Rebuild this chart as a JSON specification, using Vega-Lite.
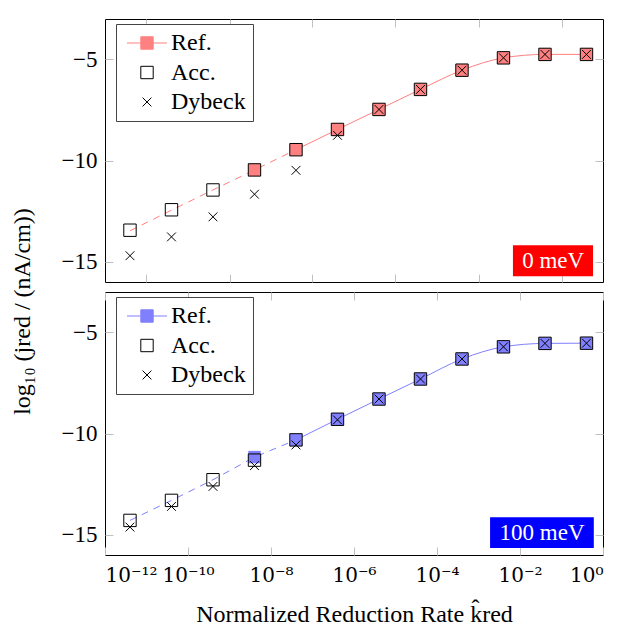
{
  "$schema": "https://vega.github.io/schema/vega-lite/v6.json",
  "padding": {"left": 9, "top": 18, "right": 4, "bottom": 0},
  "background": "white",
  "spacing": 10,
  "bounds": "flush",
  "resolve": {
    "scale": {"shape": "independent", "fill": "independent", "stroke": "independent"},
    "legend": {"shape": "independent", "fill": "independent", "stroke": "independent"}
  },
  "config": {
    "font": "Liberation Serif",
    "view": {"stroke": "black", "strokeWidth": 1},
    "axis": {
      "labelFont": "Liberation Serif", "labelFontSize": 23, "labelColor": "black",
      "titleFont": "Liberation Serif", "titleFontSize": 24, "titleFontWeight": "normal", "titleColor": "black",
      "domain": false, "grid": false, "tickColor": "#c0c0c0", "tickSize": -8, "tickWidth": 1
    },
    "legend": {
      "orient": "none", "legendX": 11, "legendY": 5,
      "strokeColor": "#444444", "fillColor": "white", "padding": 7,
      "labelFont": "Liberation Serif", "labelFontSize": 24, "labelColor": "black",
      "symbolSize": 400, "symbolStrokeWidth": 1, "symbolOffset": 12, "labelOffset": 12, "rowPadding": 5.5
    }
  },
  "datasets": {
    "p0": [
      {"k": 4e-12, "s": "Ref.", "v": -13.47}, {"k": 4e-11, "s": "Ref.", "v": -12.45}, {"k": 4e-10, "s": "Ref.", "v": -11.45}, {"k": 4e-9, "s": "Ref.", "v": -10.46},
      {"k": 4e-8, "s": "Ref.", "v": -9.46}, {"k": 4e-7, "s": "Ref.", "v": -8.46}, {"k": 4e-6, "s": "Ref.", "v": -7.47}, {"k": 4e-5, "s": "Ref.", "v": -6.48},
      {"k": 4e-4, "s": "Ref.", "v": -5.53}, {"k": 4e-3, "s": "Ref.", "v": -4.92}, {"k": 4e-2, "s": "Ref.", "v": -4.75}, {"k": 4e-1, "s": "Ref.", "v": -4.75},
      {"k": 4e-12, "s": "Acc.", "v": -13.44}, {"k": 4e-11, "s": "Acc.", "v": -12.43}, {"k": 4e-10, "s": "Acc.", "v": -11.45}, {"k": 4e-9, "s": "Acc.", "v": -10.46},
      {"k": 4e-8, "s": "Acc.", "v": -9.46}, {"k": 4e-7, "s": "Acc.", "v": -8.46}, {"k": 4e-6, "s": "Acc.", "v": -7.47}, {"k": 4e-5, "s": "Acc.", "v": -6.48},
      {"k": 4e-4, "s": "Acc.", "v": -5.53}, {"k": 4e-3, "s": "Acc.", "v": -4.92}, {"k": 4e-2, "s": "Acc.", "v": -4.75}, {"k": 4e-1, "s": "Acc.", "v": -4.75},
      {"k": 4e-12, "s": "Dybeck", "v": -14.70}, {"k": 4e-11, "s": "Dybeck", "v": -13.77}, {"k": 4e-10, "s": "Dybeck", "v": -12.78}, {"k": 4e-9, "s": "Dybeck", "v": -11.66},
      {"k": 4e-8, "s": "Dybeck", "v": -10.48}, {"k": 4e-7, "s": "Dybeck", "v": -8.75}, {"k": 4e-6, "s": "Dybeck", "v": -7.47}, {"k": 4e-5, "s": "Dybeck", "v": -6.48},
      {"k": 4e-4, "s": "Dybeck", "v": -5.53}, {"k": 4e-3, "s": "Dybeck", "v": -4.92}, {"k": 4e-2, "s": "Dybeck", "v": -4.75}, {"k": 4e-1, "s": "Dybeck", "v": -4.75}
    ],
    "p1": [
      {"k": 4e-12, "s": "Ref.", "v": -14.29}, {"k": 4e-11, "s": "Ref.", "v": -13.30}, {"k": 4e-10, "s": "Ref.", "v": -12.28}, {"k": 4e-9, "s": "Ref.", "v": -11.16},
      {"k": 4e-8, "s": "Ref.", "v": -10.31}, {"k": 4e-7, "s": "Ref.", "v": -9.29}, {"k": 4e-6, "s": "Ref.", "v": -8.29}, {"k": 4e-5, "s": "Ref.", "v": -7.30},
      {"k": 4e-4, "s": "Ref.", "v": -6.31}, {"k": 4e-3, "s": "Ref.", "v": -5.71}, {"k": 4e-2, "s": "Ref.", "v": -5.54}, {"k": 4e-1, "s": "Ref.", "v": -5.53},
      {"k": 4e-12, "s": "Acc.", "v": -14.29}, {"k": 4e-11, "s": "Acc.", "v": -13.30}, {"k": 4e-10, "s": "Acc.", "v": -12.28}, {"k": 4e-9, "s": "Acc.", "v": -11.31},
      {"k": 4e-8, "s": "Acc.", "v": -10.31}, {"k": 4e-7, "s": "Acc.", "v": -9.29}, {"k": 4e-6, "s": "Acc.", "v": -8.29}, {"k": 4e-5, "s": "Acc.", "v": -7.30},
      {"k": 4e-4, "s": "Acc.", "v": -6.31}, {"k": 4e-3, "s": "Acc.", "v": -5.71}, {"k": 4e-2, "s": "Acc.", "v": -5.54}, {"k": 4e-1, "s": "Acc.", "v": -5.53},
      {"k": 4e-12, "s": "Dybeck", "v": -14.62}, {"k": 4e-11, "s": "Dybeck", "v": -13.60}, {"k": 4e-10, "s": "Dybeck", "v": -12.61}, {"k": 4e-9, "s": "Dybeck", "v": -11.58},
      {"k": 4e-8, "s": "Dybeck", "v": -10.56}, {"k": 4e-7, "s": "Dybeck", "v": -9.32}, {"k": 4e-6, "s": "Dybeck", "v": -8.29}, {"k": 4e-5, "s": "Dybeck", "v": -7.30},
      {"k": 4e-4, "s": "Dybeck", "v": -6.31}, {"k": 4e-3, "s": "Dybeck", "v": -5.71}, {"k": 4e-2, "s": "Dybeck", "v": -5.54}, {"k": 4e-1, "s": "Dybeck", "v": -5.53}
    ]
  },
  "vconcat": [
    {
      "width": 498, "height": 263,
      "data": {"name": "p0"},
      "resolve": {"axis": {"x": "independent", "y": "independent"}},
      "layer": [
        {
          "transform": [{"filter": "datum.s === 'Ref.' && datum.k < 5e-8"}],
          "mark": {"type": "line", "stroke": "#ff8080", "strokeWidth": 1, "strokeDash": [7, 6]},
          "encoding": {
            "x": {"field": "k", "type": "quantitative", "scale": {"type": "log", "domain": [1e-12, 1], "nice": false},
                  "axis": {"orient": "bottom", "values": [1e-11, 1e-9, 1e-7, 1e-5, 1e-3, 1e-1], "labels": false, "title": null}},
            "y": {"field": "v", "type": "quantitative", "scale": {"domain": [-16, -3], "nice": false, "zero": false},
                  "axis": {"orient": "left", "values": [-15, -10, -5], "labelPadding": 16, "title": null}}
          }
        },
        {
          "transform": [{"filter": "datum.s === 'Ref.' && datum.k > 3e-8"}],
          "mark": {"type": "line", "stroke": "#ff8080", "strokeWidth": 1, "interpolate": "monotone"},
          "encoding": {
            "x": {"field": "k", "type": "quantitative", "axis": {"orient": "top", "values": [1e-11, 1e-9, 1e-7, 1e-5, 1e-3, 1e-1], "labels": false, "title": null}},
            "y": {"field": "v", "type": "quantitative", "axis": {"orient": "right", "values": [-15, -10, -5], "labels": false, "title": null}}
          }
        },
        {
          "transform": [{"filter": "datum.s === 'Ref.' && datum.k > 3e-9"}],
          "mark": {"type": "point", "shape": "square", "size": 155, "filled": true, "color": "#ff8080", "opacity": 1},
          "encoding": {
            "x": {"field": "k", "type": "quantitative", "axis": null},
            "y": {"field": "v", "type": "quantitative", "axis": null}
          }
        },
        {
          "transform": [{"filter": "datum.s !== 'Ref.'"}],
          "mark": {"type": "point", "size": 400, "strokeWidth": 1, "opacity": 1},
          "encoding": {
            "x": {"field": "k", "type": "quantitative", "axis": null},
            "y": {"field": "v", "type": "quantitative", "axis": null},
            "shape": {"field": "s", "type": "nominal", "title": null,
                      "scale": {"domain": ["Ref.", "Acc.", "Dybeck"], "range": ["M-2,0H-0.62M0.62,0H2M-0.62,-0.62H0.62V0.62H-0.62Z", "M-0.62,-0.62H0.62V0.62H-0.62Z", "M-0.44,-0.44L0.44,0.44M-0.44,0.44L0.44,-0.44"]}},
            "fill": {"field": "s", "type": "nominal", "title": null,
                     "scale": {"domain": ["Ref.", "Acc.", "Dybeck"], "range": ["#ff8080", "transparent", "transparent"]}},
            "stroke": {"field": "s", "type": "nominal", "title": null,
                       "scale": {"domain": ["Ref.", "Acc.", "Dybeck"], "range": ["#ff8080", "black", "black"]}}
          }
        },
        {
          "data": {"values": [{"t": "0 meV"}]},
          "mark": {"type": "rect", "color": "#ff0000"},
          "encoding": {
            "x": {"datum": 0.00676, "type": "quantitative", "axis": null},
            "x2": {"datum": 0.575},
            "y": {"datum": -14.18, "type": "quantitative", "axis": null},
            "y2": {"datum": -15.72}
          }
        },
        {
          "data": {"values": [{"t": "0 meV"}]},
          "mark": {"type": "text", "color": "white", "fontSize": 23, "font": "Liberation Serif", "align": "center", "baseline": "middle"},
          "encoding": {
            "x": {"datum": 0.063, "type": "quantitative", "axis": null},
            "y": {"datum": -14.95, "type": "quantitative", "axis": null},
            "text": {"field": "t"}
          }
        }
      ]
    },
    {
      "width": 498, "height": 263,
      "data": {"name": "p1"},
      "resolve": {"axis": {"x": "independent", "y": "independent"}},
      "layer": [
        {
          "transform": [{"filter": "datum.s === 'Ref.' && datum.k < 5e-8"}],
          "mark": {"type": "line", "stroke": "#8080ff", "strokeWidth": 1, "strokeDash": [7, 6]},
          "encoding": {
            "x": {"field": "k", "type": "quantitative", "scale": {"type": "log", "domain": [1e-12, 1], "nice": false},
                  "axis": {"orient": "bottom", "values": [1e-12, 1e-10, 1e-8, 1e-6, 1e-4, 1e-2, 1], "labelPadding": 18, "titlePadding": 17,
                           "labelFont": "DejaVu Serif", "labelFontSize": 20,
                           "labelExpr": "'10' + replace(replace(replace(replace(replace(replace(replace(toString(round(log(datum.value)/LN10)), '-', '⁻'), '0', '⁰'), '1', '¹'), '2', '²'), '4', '⁴'), '6', '⁶'), '8', '⁸')",
                           "title": "Normalized Reduction Rate k̂red"}},
            "y": {"field": "v", "type": "quantitative", "scale": {"domain": [-16, -3], "nice": false, "zero": false},
                  "axis": {"orient": "left", "values": [-15, -10, -5], "labelPadding": 16, "title": "log₁₀ (jred / (nA/cm))",
                           "titleX": -83, "titleY": 19, "titleBaseline": "middle", "titleAlign": "center", "titleAngle": -90}}
          }
        },
        {
          "transform": [{"filter": "datum.s === 'Ref.' && datum.k > 3e-8"}],
          "mark": {"type": "line", "stroke": "#8080ff", "strokeWidth": 1, "interpolate": "monotone"},
          "encoding": {
            "x": {"field": "k", "type": "quantitative", "axis": {"orient": "top", "values": [1e-12, 1e-10, 1e-8, 1e-6, 1e-4, 1e-2, 1], "labels": false, "title": null}},
            "y": {"field": "v", "type": "quantitative", "axis": {"orient": "right", "values": [-15, -10, -5], "labels": false, "title": null}}
          }
        },
        {
          "transform": [{"filter": "datum.s === 'Ref.' && datum.k > 3e-9"}],
          "mark": {"type": "point", "shape": "square", "size": 155, "filled": true, "color": "#8080ff", "opacity": 1},
          "encoding": {
            "x": {"field": "k", "type": "quantitative", "axis": null},
            "y": {"field": "v", "type": "quantitative", "axis": null}
          }
        },
        {
          "transform": [{"filter": "datum.s !== 'Ref.'"}],
          "mark": {"type": "point", "size": 400, "strokeWidth": 1, "opacity": 1},
          "encoding": {
            "x": {"field": "k", "type": "quantitative", "axis": null},
            "y": {"field": "v", "type": "quantitative", "axis": null},
            "shape": {"field": "s", "type": "nominal", "title": null,
                      "scale": {"domain": ["Ref.", "Acc.", "Dybeck"], "range": ["M-2,0H-0.62M0.62,0H2M-0.62,-0.62H0.62V0.62H-0.62Z", "M-0.62,-0.62H0.62V0.62H-0.62Z", "M-0.44,-0.44L0.44,0.44M-0.44,0.44L0.44,-0.44"]}},
            "fill": {"field": "s", "type": "nominal", "title": null,
                     "scale": {"domain": ["Ref.", "Acc.", "Dybeck"], "range": ["#8080ff", "transparent", "transparent"]}},
            "stroke": {"field": "s", "type": "nominal", "title": null,
                       "scale": {"domain": ["Ref.", "Acc.", "Dybeck"], "range": ["#8080ff", "black", "black"]}}
          }
        },
        {
          "data": {"values": [{"t": "100 meV"}]},
          "mark": {"type": "rect", "color": "#0000ff"},
          "encoding": {
            "x": {"datum": 0.0019, "type": "quantitative", "axis": null},
            "x2": {"datum": 0.60},
            "y": {"datum": -14.14, "type": "quantitative", "axis": null},
            "y2": {"datum": -15.65}
          }
        },
        {
          "data": {"values": [{"t": "100 meV"}]},
          "mark": {"type": "text", "color": "white", "fontSize": 23, "font": "Liberation Serif", "align": "center", "baseline": "middle"},
          "encoding": {
            "x": {"datum": 0.034, "type": "quantitative", "axis": null},
            "y": {"datum": -14.9, "type": "quantitative", "axis": null},
            "text": {"field": "t"}
          }
        }
      ]
    }
  ]
}
